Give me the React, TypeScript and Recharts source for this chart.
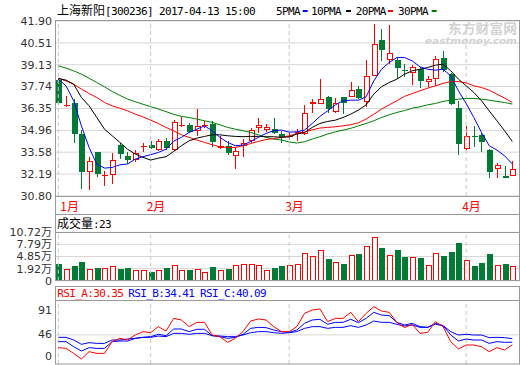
import React from 'react';
import { ComposedChart, Bar, Line, XAxis, YAxis, CartesianGrid, ReferenceLine } from 'recharts';

const RED = '#ff0000';
const GREEN = '#007a35';
const GRID = '#d6d6d6';
const FRAME = '#999999';
const SANS = '"DejaVu Sans", "Noto Sans CJK SC", sans-serif';
const MONO = '"DejaVu Sans Mono", monospace';
const CJK = '"Noto Sans CJK SC", sans-serif';

// daily candles, 2017-01-11 .. 2017-04-13
const opens = [38.15, 36.56, 36.67, 34.73, 32.34, 33.56, 32.09, 32.13, 34.05, 33.35, 33.08, 33.95, 34.05, 33.73, 34.30, 33.72, 35.23, 35.32, 34.94, 35.23, 35.36, 33.82, 33.99, 33.35, 33.97, 34.26, 35.13, 34.98, 35.06, 34.75, 34.56, 34.73, 34.73, 36.63, 36.63, 37.05, 36.14, 37.05, 37.09, 37.56, 36.79, 38.42, 40.70, 39.44, 39.44, 38.80, 38.63, 38.84, 38.04, 38.25, 39.58, 38.53, 36.35, 33.77, 34.60, 34.66, 33.73, 32.51, 32.09, 32.09];
const highs = [38.21, 37.13, 36.94, 34.98, 33.29, 33.61, 32.36, 33.52, 34.13, 33.61, 33.73, 34.13, 34.26, 34.41, 34.47, 35.61, 35.82, 35.44, 36.29, 35.57, 35.57, 34.60, 34.26, 33.88, 34.41, 35.09, 35.72, 35.36, 35.74, 34.94, 34.83, 35.04, 36.58, 36.94, 38.25, 37.15, 37.01, 37.09, 38.00, 37.79, 39.41, 41.69, 41.42, 41.65, 39.58, 39.20, 39.12, 38.99, 38.42, 39.65, 40.01, 38.63, 36.84, 35.25, 35.21, 34.77, 33.77, 32.89, 32.68, 32.99];
const lows = [36.58, 36.42, 34.13, 31.24, 31.18, 31.98, 31.45, 31.56, 33.14, 32.83, 32.97, 33.61, 33.77, 33.67, 33.71, 33.67, 35.15, 34.77, 34.60, 35.11, 33.92, 33.77, 33.39, 32.51, 33.25, 34.13, 34.79, 34.89, 34.73, 34.13, 34.35, 34.30, 34.68, 36.04, 36.63, 36.04, 36.08, 35.99, 37.05, 36.94, 36.42, 38.38, 39.37, 39.16, 38.25, 38.35, 37.83, 37.62, 37.73, 37.77, 38.68, 36.58, 33.42, 33.71, 33.88, 33.56, 31.94, 31.94, 31.94, 32.04];
const closes = [36.67, 36.60, 34.73, 32.34, 32.99, 32.19, 32.13, 33.08, 33.46, 33.08, 33.50, 33.99, 33.82, 34.30, 33.82, 35.50, 35.32, 34.83, 35.25, 35.30, 34.24, 33.99, 33.52, 33.67, 34.13, 34.98, 35.32, 35.19, 34.79, 34.52, 34.60, 34.87, 36.06, 36.77, 36.97, 36.31, 36.69, 36.73, 37.51, 37.01, 38.42, 40.45, 40.07, 39.86, 38.91, 38.75, 38.99, 38.10, 38.19, 39.48, 38.80, 36.63, 34.09, 34.62, 34.56, 34.20, 32.30, 32.79, 31.94, 32.51];

// volume in 万 hands
const vols = [3.04, 1.83, 2.55, 3.52, 1.83, 2.14, 2.14, 2.55, 1.90, 2.14, 1.58, 1.58, 1.10, 1.58, 2.14, 2.72, 1.58, 1.66, 1.83, 1.10, 2.31, 1.58, 1.90, 2.80, 3.04, 3.04, 2.87, 1.51, 2.07, 2.55, 2.72, 2.97, 5.63, 4.90, 6.43, 4.32, 3.45, 3.04, 5.15, 5.46, 7.33, 9.51, 6.92, 5.15, 6.43, 4.73, 4.73, 4.49, 2.72, 5.63, 4.98, 5.95, 8.13, 3.93, 2.55, 3.28, 5.46, 2.72, 3.04, 2.48];

const ma5 = [38.21, 37.79, 36.84, 35.25, 33.88, 32.82, 32.57, 32.61, 32.78, 32.83, 33.14, 33.29, 33.42, 33.56, 33.77, 34.28, 34.52, 34.83, 35.04, 35.25, 34.94, 34.52, 34.20, 33.99, 34.03, 34.26, 34.52, 34.77, 34.94, 34.98, 34.85, 34.87, 34.98, 35.40, 35.85, 36.20, 36.58, 36.84, 36.88, 36.88, 37.09, 38.10, 38.84, 39.27, 39.58, 39.58, 39.37, 38.99, 38.84, 38.78, 38.84, 38.42, 37.47, 36.67, 35.78, 34.83, 33.99, 33.71, 33.35, 32.83];
const ma10 = [38.25, 38.15, 37.89, 37.05, 36.52, 35.78, 35.04, 34.62, 34.20, 33.77, 33.46, 33.25, 33.08, 33.20, 33.29, 33.63, 33.99, 34.30, 34.47, 34.58, 34.68, 34.68, 34.62, 34.58, 34.56, 34.58, 34.58, 34.56, 34.56, 34.52, 34.55, 34.73, 34.83, 35.15, 35.40, 35.53, 35.61, 35.78, 35.99, 36.25, 36.58, 37.26, 37.73, 38.00, 38.21, 38.53, 38.74, 38.84, 38.95, 39.10, 39.16, 38.74, 38.21, 37.79, 37.37, 36.84, 36.20, 35.57, 34.94, 34.26];
const ma20 = [38.27, 38.10, 37.89, 37.58, 37.30, 37.05, 36.73, 36.52, 36.37, 36.20, 35.99, 35.82, 35.61, 35.40, 35.15, 34.93, 34.68, 34.52, 34.35, 34.20, 34.05, 33.92, 33.88, 33.88, 33.99, 34.13, 34.26, 34.38, 34.44, 34.52, 34.62, 34.75, 34.86, 35.00, 35.11, 35.15, 35.19, 35.25, 35.32, 35.44, 35.68, 35.99, 36.31, 36.58, 36.84, 37.12, 37.30, 37.47, 37.64, 37.79, 37.94, 38.06, 38.06, 37.98, 37.79, 37.68, 37.51, 37.26, 37.01, 36.73];
const ma30 = [39.06, 38.91, 38.74, 38.53, 38.27, 38.00, 37.73, 37.43, 37.18, 36.95, 36.78, 36.62, 36.47, 36.32, 36.15, 35.98, 35.85, 35.78, 35.68, 35.57, 35.47, 35.32, 35.15, 35.04, 34.94, 34.83, 34.68, 34.52, 34.41, 34.35, 34.23, 34.16, 34.24, 34.41, 34.56, 34.73, 34.87, 34.98, 35.09, 35.25, 35.40, 35.57, 35.78, 35.95, 36.10, 36.22, 36.37, 36.46, 36.58, 36.67, 36.80, 36.88, 36.94, 36.99, 36.99, 36.94, 36.88, 36.80, 36.73, 36.63];

const rsiA = [25.8, 24.7, 16.8, 7.9, 19.5, 16.8, 16.8, 35.3, 40.5, 37.9, 45.8, 51.1, 49.5, 59.0, 52.1, 72.1, 69.5, 59.0, 65.8, 65.8, 45.8, 43.2, 34.2, 40.5, 51.1, 67.9, 71.1, 69.5, 59.0, 51.1, 51.1, 59.0, 80.0, 85.3, 86.9, 66.9, 72.1, 72.1, 81.6, 66.9, 80.0, 90.6, 83.7, 81.6, 65.8, 57.4, 62.7, 48.4, 50.0, 66.9, 59.0, 35.3, 23.7, 30.0, 30.0, 27.4, 19.5, 25.8, 22.1, 30.35];
const rsiB = [35.3, 35.3, 27.4, 20.5, 25.8, 24.7, 24.7, 35.3, 36.3, 36.3, 40.5, 42.1, 43.2, 46.9, 44.8, 55.3, 55.3, 51.1, 54.8, 54.8, 44.8, 43.2, 40.5, 42.1, 46.9, 56.3, 57.9, 57.4, 53.7, 51.1, 50.0, 53.7, 64.2, 69.5, 70.6, 62.7, 65.8, 65.8, 70.6, 65.3, 72.1, 81.6, 77.4, 76.4, 65.8, 61.6, 64.2, 59.0, 57.9, 64.2, 60.6, 45.8, 36.3, 39.5, 37.9, 37.9, 32.6, 35.3, 34.2, 34.41];
const rsiC = [42.1, 42.1, 37.9, 31.1, 33.7, 32.6, 32.6, 37.9, 37.9, 39.5, 40.5, 42.1, 42.1, 44.2, 43.2, 48.4, 48.4, 46.9, 48.4, 48.4, 44.8, 44.2, 43.2, 43.2, 45.8, 49.5, 51.1, 51.1, 49.5, 48.4, 49.5, 51.1, 56.3, 59.0, 59.0, 56.3, 57.9, 57.9, 60.6, 57.9, 61.6, 67.9, 65.8, 65.8, 62.7, 60.0, 61.6, 57.9, 57.9, 62.7, 60.6, 51.1, 45.8, 46.9, 45.8, 45.8, 41.6, 42.1, 41.6, 40.09];

const monthStarts = [0, 12, 30, 53];
const monthNames = ['1月', '2月', '3月', '4月'];
const priceTicks = [30.80, 32.19, 33.58, 34.96, 36.35, 37.74, 39.13, 40.51, 41.90];
const volFloor = -1.01;
const volTicks = [volFloor, 1.92, 4.85, 7.79, 10.72];
const rsiTicks = [0, 46, 91];

const rows = closes.map((close, i) => ({
  i, open: opens[i], high: highs[i], low: lows[i], close, vol: vols[i],
  ma5: ma5[i], ma10: ma10[i], ma20: ma20[i], ma30: ma30[i],
  rsiA: rsiA[i], rsiB: rsiB[i], rsiC: rsiC[i],
}));

const XPAD = { left: -1.55, right: 2.85 };

function Candle(props: any) {
  const { x, y, width, height, payload } = props;
  if (x == null || !payload) return null;
  const { open, close, high, low } = payload;
  const c = Math.round(x + width / 2);
  const wx = c + 0.5;
  const toY = (v: number) => (high === low ? y : y + ((high - v) / (high - low)) * height);
  const up = close >= open;
  const color = up ? RED : GREEN;
  const yTop = Math.round(toY(Math.max(open, close)));
  const yBot = Math.round(toY(Math.min(open, close)));
  const yHi = Math.round(y);
  const yLo = Math.round(y + height);
  if (yBot - yTop < 2) {
    return (
      <g>
        <line x1={wx} x2={wx} y1={yHi} y2={yLo} stroke={color} />
        <line x1={c - 2} x2={c + 4} y1={yTop + 0.5} y2={yTop + 0.5} stroke={color} />
      </g>
    );
  }
  if (up) {
    return (
      <g>
        <line x1={wx} x2={wx} y1={yHi} y2={yTop} stroke={color} />
        <line x1={wx} x2={wx} y1={yBot} y2={yLo} stroke={color} />
        <rect x={c - 1.5} y={yTop + 0.5} width={5} height={yBot - yTop - 1} fill="#fff" stroke={color} />
      </g>
    );
  }
  return (
    <g>
      <line x1={wx} x2={wx} y1={yHi} y2={yLo} stroke={color} />
      <rect x={c - 2} y={yTop} width={6} height={yBot - yTop} fill={color} />
    </g>
  );
}

function VolBar(props: any) {
  const { x, y, width, height, payload } = props;
  if (x == null || !payload) return null;
  const c = Math.round(x + width / 2);
  const top = Math.round(y);
  const bot = Math.round(y + height);
  if (payload.close >= payload.open) {
    return <rect x={c - 1.5} y={top + 0.5} width={5} height={bot - top - 1} fill="#fff" stroke={RED} />;
  }
  return <rect x={c - 2} y={top} width={6} height={bot - top} fill={GREEN} />;
}

function MonthTick({ x, y, payload, index }: any) {
  const k = monthStarts.indexOf(payload.value);
  return (
    <text x={index === 0 ? x + 2 : x - 4} y={y + 14.5} fontSize={12} fontFamily={CJK} fill={RED}>
      {monthNames[k]}
    </text>
  );
}

function RsiTick({ x, y, payload }: any) {
  const v = payload.value;
  const shift = v === 0 ? -8 : v === 91 ? 3.5 : -1;
  return (
    <text x={x} y={y + shift} dy="0.355em" textAnchor="end" fontSize={11} fontFamily={SANS} fill="#333">
      {v}
    </text>
  );
}

const tickStyle = { fontSize: 11, fill: '#333', fontFamily: SANS };
const layer: React.CSSProperties = { position: 'absolute', left: 0, top: 0 };

function monthLines() {
  return monthStarts.map((m) => (
    <ReferenceLine key={m} x={m} stroke="#c8c8c8" strokeDasharray="4 3" ifOverflow="extendDomain" />
  ));
}

export default function App() {
  return (
    <div style={{ position: 'absolute', left: 0, top: 0, width: 520, height: 365, background: '#fff', overflow: 'hidden' }}>
      <svg style={layer} width={520} height={365}>
        <text x={448} y={33} fontFamily={CJK} fontWeight={700} fontSize={13} fill="#d2d2d2" textLength={69} lengthAdjust="spacingAndGlyphs">东方财富网</text>
        <text x={425} y={44} fontFamily={SANS} fontStyle="italic" fontWeight={700} fontSize={8} fill="#d2d2d2" textLength={92} lengthAdjust="spacingAndGlyphs">eastmoney.com</text>
      </svg>

      <div style={layer}>
        <ComposedChart width={520} height={365} data={rows} margin={{ top: 21, right: 1, bottom: 149, left: 0 }}>
          <CartesianGrid vertical={false} stroke={GRID} />
          {monthLines()}
          <XAxis dataKey="i" type="category" scale="band" padding={XPAD} ticks={monthStarts} interval={0}
            height={20} tickSize={0} tickMargin={0} axisLine={false} tickLine={false} tick={(p: any) => <MonthTick {...p} />} />
          <YAxis domain={[30.8, 41.9]} ticks={priceTicks} interval={0} width={56} axisLine={false} tickLine={false}
            tickSize={0} tickMargin={4} tick={tickStyle} tickFormatter={(v: number) => v.toFixed(2)} />
          <Bar dataKey={(d: any) => [d.low, d.high]} isAnimationActive={false} shape={(p: any) => <Candle {...p} />} />
          <Line dataKey="ma30" stroke="#008000" strokeWidth={1} dot={false} isAnimationActive={false} />
          <Line dataKey="ma20" stroke={RED} strokeWidth={1} dot={false} isAnimationActive={false} />
          <Line dataKey="ma10" stroke="#000" strokeWidth={1} dot={false} isAnimationActive={false} />
          <Line dataKey="ma5" stroke="#0000ff" strokeWidth={1} dot={false} isAnimationActive={false} />
        </ComposedChart>
      </div>

      <div style={layer}>
        <ComposedChart width={520} height={365} data={rows} margin={{ top: 232.3, right: 1, bottom: 84.3, left: 0 }}>
          <CartesianGrid vertical={false} stroke={GRID} />
          {monthLines()}
          <XAxis dataKey="i" type="category" scale="band" padding={XPAD} hide />
          <YAxis domain={[volFloor, 10.72]} ticks={volTicks} interval={0} width={56} axisLine={false} tickLine={false}
            tickSize={0} tickMargin={4} tick={tickStyle}
            tickFormatter={(v: number) => (v < 0 ? '0' : v.toFixed(2) + '万')} />
          <Bar dataKey={(d: any) => [volFloor, d.vol]} isAnimationActive={false} shape={(p: any) => <VolBar {...p} />} />
        </ComposedChart>
      </div>

      <div style={layer}>
        <ComposedChart width={520} height={365} data={rows} margin={{ top: 300.7, right: 1, bottom: 1, left: 0 }}>
          {monthLines()}
          <ReferenceLine y={46} stroke={GRID} />
          <XAxis dataKey="i" type="category" scale="band" padding={XPAD} hide />
          <YAxis domain={[0, 100]} ticks={rsiTicks} interval={0} width={56} axisLine={false} tickLine={false}
            tickSize={0} tickMargin={4} tick={(p: any) => <RsiTick {...p} />} />
          <Line dataKey="rsiC" stroke="#0000ff" strokeWidth={1} dot={false} isAnimationActive={false} />
          <Line dataKey="rsiB" stroke="#0000ff" strokeWidth={1} dot={false} isAnimationActive={false} />
          <Line dataKey="rsiA" stroke={RED} strokeWidth={1} dot={false} isAnimationActive={false} />
        </ComposedChart>
      </div>

      <svg style={{ ...layer, pointerEvents: 'none' }} width={520} height={365}>
        <g fill="none" stroke={FRAME}>
          <rect x={55.5} y={20.5} width={464} height={194} />
          <line x1={55.5} x2={519.5} y1={196.5} y2={196.5} />
          <rect x={55.5} y={214.5} width={464} height={66} />
          <line x1={55.5} x2={519.5} y1={232.5} y2={232.5} />
          <rect x={55.5} y={286.5} width={464} height={77.5} />
          <line x1={55.5} x2={519.5} y1={300.5} y2={300.5} />
        </g>
        <text x={57} y={15} fontSize={12} fill="#000">
          <tspan fontFamily={CJK}>上海新阳</tspan>
          <tspan fontFamily={MONO} fontSize={11} letterSpacing={-0.62}>[300236] 2017-04-13 15:00</tspan>
        </text>
        <g fontFamily={MONO} fontSize={11} letterSpacing={-0.62} fill="#000">
          <text x={276} y={15}>5PMA</text>
          <text x={311} y={15}>10PMA</text>
          <text x={355.7} y={15}>20PMA</text>
          <text x={398} y={15}>30PMA</text>
        </g>
        <rect x={302.7} y={10} width={5} height={2} fill="#0000ff" />
        <rect x={346} y={10} width={5} height={2} fill="#000" />
        <rect x={388} y={10} width={5} height={2} fill={RED} />
        <rect x={431.7} y={10} width={5} height={2} fill="#008000" />
        <text x={57} y={227.5} fontSize={12} fill="#000">
          <tspan fontFamily={CJK}>成交量</tspan>
          <tspan fontFamily={MONO} fontSize={11} letterSpacing={-0.62}>:23</tspan>
        </text>
        <g fontFamily={MONO} fontSize={11} letterSpacing={-0.62}>
          <text x={57.3} y={297} fill={RED}>RSI_A:30.35</text>
          <text x={128.3} y={297} fill="#0000ff">RSI_B:34.41</text>
          <text x={200} y={297} fill="#0000ff">RSI_C:40.09</text>
        </g>
      </svg>
    </div>
  );
}
